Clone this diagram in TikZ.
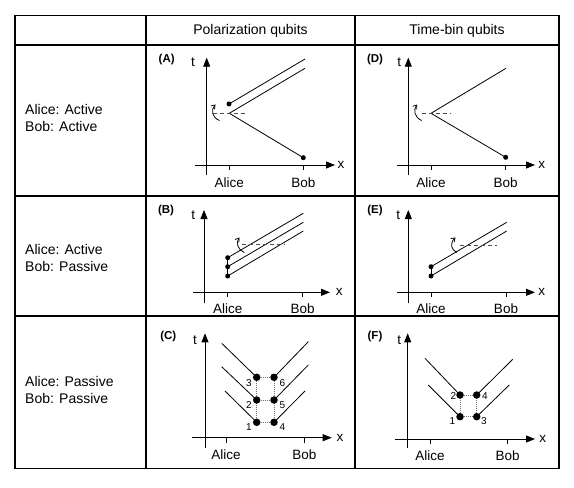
\documentclass[tikz,border=0pt]{standalone}
\usepackage{fontspec}
\setmainfont{Liberation Sans}
\usetikzlibrary{arrows.meta}
\begin{document}
\begin{tikzpicture}[x=1bp,y=-1bp,
 gridl/.style={line width=1.8bp},
 axis/.style={line width=0.8bp,-{Triangle[length=9bp,width=7bp]}},
 tick/.style={line width=0.8bp},
 ray/.style={line width=0.8bp},
 ref/.style={line width=0.7bp,dash pattern=on 4bp off 3bp,black!70},
 dotl/.style={line width=0.7bp,dash pattern=on 1bp off 1bp,black!55},
 rot/.style={line width=0.8bp,-{Straight Barb[length=3.5bp,width=5bp]}},
 sdot/.style={circle,fill,inner sep=0,minimum size=5bp},
 bdot/.style={circle,fill,inner sep=0,minimum size=7.5bp},
 lbl/.style={font=\fontsize{13.5bp}{15bp}\selectfont,inner sep=0},
 hdr/.style={font=\fontsize{14bp}{17bp}\selectfont,inner sep=0,align=left},
 tag/.style={font=\bfseries\fontsize{11.5bp}{12bp}\selectfont,inner sep=0},
 num/.style={font=\fontsize{10bp}{11bp}\selectfont,inner sep=0},
]
\useasboundingbox (0,0) rectangle (574,488);
\fill[white] (0,0) rectangle (574,488);
% table grid
\draw[gridl] (15,15.5) rectangle (559,468.5);
\draw[gridl] (15,45) -- (559,45);
\draw[gridl] (15,196) -- (559,196);
\draw[gridl] (15,316) -- (559,316);
\draw[gridl] (146,15.5) -- (146,468.5);
\draw[gridl] (355,15.5) -- (355,468.5);
% headers
\node[hdr] (h1) at (250.5,30.5) {Polarization qubits};
\node[hdr] (h2) at (457,30.5) {Time-bin qubits};
\node[hdr,anchor=west] (r1) at (25,118) {Alice: Active\\Bob: Active};
\node[hdr,anchor=west] (r2) at (25,257.5) {Alice: Active\\Bob: Passive};
\node[hdr,anchor=west] (r3) at (25,390) {Alice: Passive\\Bob: Passive};

% ===== Panel A =====
\coordinate (Ay0) at (206.7,175); \coordinate (Ay1) at (206.7,57.7);
\coordinate (Ax0) at (195,165); \coordinate (Ax1) at (335,165);
\draw[axis] (Ay0) -- (Ay1);
\draw[axis] (Ax0) -- (Ax1);
\coordinate (Ata) at (229.3,165); \coordinate (Atb) at (229.3,170);
\coordinate (Btb0) at (303.3,165); \coordinate (Btb1) at (303.3,170);
\draw[tick] (Ata) -- (Atb); \draw[tick] (Btb0) -- (Btb1);
\node[tag] (Atag) at (166.7,60) {(A)};
\node[lbl] (At) at (193,62) {t};
\node[lbl] (Axl) at (341,165) {x};
\node[lbl] (Aal) at (229.3,182.5) {Alice};
\node[lbl] (Abl) at (303.3,182.5) {Bob};
\coordinate (As) at (229.3,113.3);
\coordinate (Ae1) at (305,68.3);
\coordinate (Ae2) at (305,59);
\node[sdot] (Abob) at (303.3,157.7) {};
\node[sdot] (Ad) at (229,104) {};
\draw[ray] (As) -- (Abob.center);
\draw[ray] (As) -- (Ae1);
\draw[ray] (Ad.center) -- (Ae2);
\coordinate (Ah0) at (213.3,113.3); \coordinate (Ah1) at (248.3,113.3);
\draw[ref] (Ah0) -- (Ah1);
\coordinate (Ar0) at (219.5,120.5); \coordinate (Ar1) at (215.5,104.5);
\draw[rot] (Ar0) .. controls (212,117.5) and (210.5,110) .. (Ar1);

% ===== Panel D =====
\coordinate (Dy0) at (408.3,175); \coordinate (Dy1) at (408.3,57.7);
\coordinate (Dx0) at (396.7,165); \coordinate (Dx1) at (535,165);
\draw[axis] (Dy0) -- (Dy1);
\draw[axis] (Dx0) -- (Dx1);
\coordinate (Dta) at (431,165); \coordinate (Dtb) at (431,170);
\coordinate (Dtc) at (505.7,165); \coordinate (Dtd) at (505.7,170);
\draw[tick] (Dta) -- (Dtb); \draw[tick] (Dtc) -- (Dtd);
\node[tag] (Dtag) at (375,60) {(D)};
\node[lbl] (Dt) at (399.3,62) {t};
\node[lbl] (Dxl) at (541.7,165) {x};
\node[lbl] (Dal) at (431,182.5) {Alice};
\node[lbl] (Dbl) at (505.7,182.5) {Bob};
\coordinate (Ds) at (431,113.3);
\coordinate (De1) at (506,68.3);
\node[sdot] (Dbob) at (505.7,157.3) {};
\draw[ray] (Ds) -- (Dbob.center);
\draw[ray] (Ds) -- (De1);
\coordinate (Dh0) at (421.7,113.3); \coordinate (Dh1) at (450,113.3);
\draw[ref] (Dh0) -- (Dh1);
\coordinate (Dr0) at (421.7,120.5); \coordinate (Dr1) at (417.2,104.5);
\draw[rot] (Dr0) .. controls (414.5,117.5) and (413,110) .. (Dr1);

% ===== Panel B =====
\coordinate (By0) at (204,303.3); \coordinate (By1) at (204,210);
\coordinate (Bx0) at (193.3,292.3); \coordinate (Bx1) at (330,292.3);
\draw[axis] (By0) -- (By1);
\draw[axis] (Bx0) -- (Bx1);
\coordinate (Bta) at (227.7,292.3); \coordinate (Btb) at (227.7,297);
\coordinate (Btc) at (302.7,292.3); \coordinate (Btd) at (302.7,297);
\draw[tick] (Bta) -- (Btb); \draw[tick] (Btc) -- (Btd);
\node[tag] (Btag) at (166,211) {(B)};
\node[lbl] (Bt) at (193.3,215) {t};
\node[lbl] (Bxl) at (339.3,292.3) {x};
\node[lbl] (Bal) at (227.7,308.8) {Alice};
\node[lbl] (Bbl) at (302.7,308.8) {Bob};
\node[sdot] (Bd1) at (227.7,257.7) {};
\node[sdot] (Bd2) at (227.7,266.7) {};
\node[sdot] (Bd3) at (227.7,276) {};
\coordinate (Be1) at (303.3,213.3);
\coordinate (Be2) at (303.3,222.3);
\coordinate (Be3) at (303.3,231);
\draw[ray] (Bd1.center) -- (Be1);
\draw[ray] (Bd2.center) -- (Be2);
\draw[ray] (Bd3.center) -- (Be3);
\draw[ray,line width=0.5bp] (Bd1.center) -- (Bd3.center);
\coordinate (Bh0) at (241.7,244.3); \coordinate (Bh1) at (285,244.3);
\draw[ref] (Bh0) -- (Bh1);
\coordinate (Br0) at (244.3,252.5); \coordinate (Br1) at (239.5,237.5);
\draw[rot] (Br0) .. controls (238,250) and (235.5,243) .. (Br1);

% ===== Panel E =====
\coordinate (Ey0) at (408.3,303.3); \coordinate (Ey1) at (408.3,210);
\coordinate (Ex0) at (396.7,292.3); \coordinate (Ex1) at (535,292.3);
\draw[axis] (Ey0) -- (Ey1);
\draw[axis] (Ex0) -- (Ex1);
\coordinate (Eta) at (431,292.3); \coordinate (Etb) at (431,297);
\coordinate (Etc) at (506,292.3); \coordinate (Etd) at (506,297);
\draw[tick] (Eta) -- (Etb); \draw[tick] (Etc) -- (Etd);
\node[tag] (Etag) at (375,211) {(E)};
\node[lbl] (Et) at (398.3,215) {t};
\node[lbl] (Exl) at (541.7,292.3) {x};
\node[lbl] (Eal) at (431,308.8) {Alice};
\node[lbl] (Ebl) at (506,308.8) {Bob};
\node[sdot] (Ed1) at (431,266.7) {};
\node[sdot] (Ed2) at (431,276) {};
\coordinate (Ee1) at (506.7,222.3);
\coordinate (Ee2) at (506.7,231);
\draw[ray] (Ed1.center) -- (Ee1);
\draw[ray] (Ed2.center) -- (Ee2);
\draw[ray,line width=0.5bp] (Ed1.center) -- (Ed2.center);
\coordinate (Eh0) at (460,245); \coordinate (Eh1) at (496.7,245);
\draw[ref] (Eh0) -- (Eh1);
\coordinate (Er0) at (457,252.5); \coordinate (Er1) at (455.5,237.5);
\draw[rot] (Er0) .. controls (451,250) and (449.5,243) .. (Er1);

% ===== Panel C =====
\coordinate (Cy0) at (205,448.3); \coordinate (Cy1) at (205,333.3);
\coordinate (Cx0) at (191.7,437.7); \coordinate (Cx1) at (331.7,437.7);
\draw[axis] (Cy0) -- (Cy1);
\draw[axis] (Cx0) -- (Cx1);
\coordinate (Cta) at (226,437.7); \coordinate (Ctb) at (226,442.5);
\coordinate (Ctc) at (304.3,437.7); \coordinate (Ctd) at (304.3,442.5);
\draw[tick] (Cta) -- (Ctb); \draw[tick] (Ctc) -- (Ctd);
\node[tag] (Ctag) at (168.3,336.7) {(C)};
\node[lbl] (Ct) at (195,340) {t};
\node[lbl] (Cxl) at (340,437.7) {x};
\node[lbl] (Cal) at (226,454.5) {Alice};
\node[lbl] (Cbl) at (304.3,454.5) {Bob};
\coordinate (CL1) at (256.7,422.3); \coordinate (CL2) at (256.7,400); \coordinate (CL3) at (256.7,377.3);
\coordinate (CR1) at (274,422.3); \coordinate (CR2) at (274,400); \coordinate (CR3) at (274,377.3);
\coordinate (Cl1) at (225,391); \coordinate (Cl2) at (221.7,366.7); \coordinate (Cl3) at (221.7,343.3);
\coordinate (Cr1) at (305,391); \coordinate (Cr2) at (308.3,365); \coordinate (Cr3) at (308.3,341.7);
\draw[ray] (CL1) -- (Cl1); \draw[ray] (CL2) -- (Cl2); \draw[ray] (CL3) -- (Cl3);
\draw[ray] (CR1) -- (Cr1); \draw[ray] (CR2) -- (Cr2); \draw[ray] (CR3) -- (Cr3);
\draw[dotl] (CL1) -- (CR1); \draw[dotl] (CL2) -- (CR2); \draw[dotl] (CL3) -- (CR3);
\draw[dotl] (CL1) -- (CL3); \draw[dotl] (CR1) -- (CR3);
\node[bdot] (C1) at (CL1) {}; \node[bdot] (C2) at (CL2) {}; \node[bdot] (C3) at (CL3) {};
\node[bdot] (C4) at (CR1) {}; \node[bdot] (C5) at (CR2) {}; \node[bdot] (C6) at (CR3) {};
\node[num] (Cn1) at (249,426.7) {1};
\node[num] (Cn2) at (249,405) {2};
\node[num] (Cn3) at (249,383.3) {3};
\node[num] (Cn4) at (282.3,426.7) {4};
\node[num] (Cn5) at (282.3,405) {5};
\node[num] (Cn6) at (282.3,383.3) {6};

% ===== Panel F =====
\coordinate (Fy0) at (407.7,448.3); \coordinate (Fy1) at (407.7,333.3);
\coordinate (Fx0) at (395,439); \coordinate (Fx1) at (535,439);
\draw[axis] (Fy0) -- (Fy1);
\draw[axis] (Fx0) -- (Fx1);
\coordinate (Fta) at (430,439); \coordinate (Ftb) at (430,443.8);
\coordinate (Ftc) at (507.7,439); \coordinate (Ftd) at (507.7,443.8);
\draw[tick] (Fta) -- (Ftb); \draw[tick] (Ftc) -- (Ftd);
\node[tag] (Ftag) at (375,336.7) {(F)};
\node[lbl] (Ft) at (399.3,340) {t};
\node[lbl] (Fxl) at (542.7,439) {x};
\node[lbl] (Fal) at (430,456) {Alice};
\node[lbl] (Fbl) at (507.7,456) {Bob};
\coordinate (FL1) at (460,416.7); \coordinate (FL2) at (460,395);
\coordinate (FR1) at (476.7,416.7); \coordinate (FR2) at (476.7,395);
\coordinate (Fl1) at (428.3,385); \coordinate (Fl2) at (425,358.3);
\coordinate (Fr1) at (509.3,385); \coordinate (Fr2) at (512.7,359.3);
\draw[ray] (FL1) -- (Fl1); \draw[ray] (FL2) -- (Fl2);
\draw[ray] (FR1) -- (Fr1); \draw[ray] (FR2) -- (Fr2);
\draw[dotl] (FL1) -- (FR1); \draw[dotl] (FL2) -- (FR2);
\draw[dotl] (FL1) -- (FL2); \draw[dotl] (FR1) -- (FR2);
\node[bdot] (F1) at (FL1) {}; \node[bdot] (F2) at (FL2) {};
\node[bdot] (F3) at (FR1) {}; \node[bdot] (F4) at (FR2) {};
\node[num] (Fn1) at (452.5,421) {1};
\node[num] (Fn2) at (453.5,396.5) {2};
\node[num] (Fn3) at (484,421) {3};
\node[num] (Fn4) at (485,396.5) {4};
\end{tikzpicture}
\end{document}
